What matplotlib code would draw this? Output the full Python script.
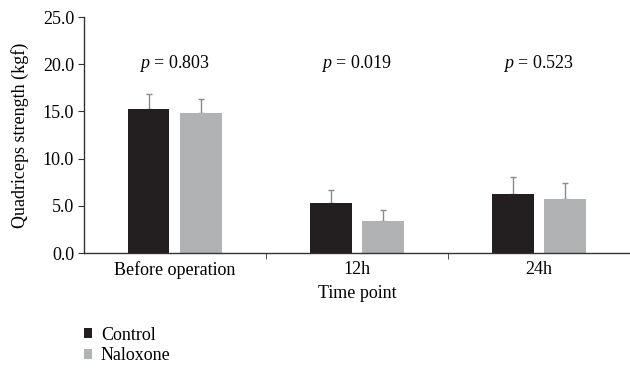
import matplotlib
matplotlib.use("Agg")
import matplotlib.pyplot as plt
import numpy as np

categories = ["Before operation", "12h", "24h"]
control = [15.3, 5.3, 6.3]
control_err = [1.55, 1.35, 1.8]
naloxone = [14.85, 3.4, 5.7]
naloxone_err = [1.5, 1.15, 1.75]
p_labels = ["0.803", "0.019", "0.523"]

plt.rcParams["font.family"] = ["Liberation Serif", "DejaVu Serif"]
plt.rcParams["mathtext.fontset"] = "custom"
plt.rcParams["mathtext.it"] = "Liberation Serif:italic"
plt.rcParams["mathtext.rm"] = "Liberation Serif"

fs = 13
fig = plt.figure(figsize=(6.3, 3.7), dpi=100)
ax = fig.add_axes([0.133, 0.316, 0.867, 0.638])

x = np.arange(len(categories))
w = 0.227
off = 0.143
ax.bar(x - off, control, w, color="#231f20", label="Control", zorder=2)
ax.bar(x + off, naloxone, w, color="#b1b2b4", label="Naloxone", zorder=2)
ax.errorbar(x - off, control, yerr=[[0] * 3, control_err], fmt="none",
            ecolor="#8a8a8a", elinewidth=1.0, capsize=2.5, capthick=1.0, zorder=1)
ax.errorbar(x + off, naloxone, yerr=[[0] * 3, naloxone_err], fmt="none",
            ecolor="#8a8a8a", elinewidth=1.0, capsize=2.5, capthick=1.0, zorder=1)

for i, p in enumerate(p_labels):
    ax.text(x[i], 20.1, "$p$ = " + p, ha="center", va="center", fontsize=fs)

ax.set_xlim(-0.5, 2.5)
ax.set_ylim(0, 25)
ax.set_yticks(np.arange(0, 25.1, 5))
ax.set_yticklabels(["%.1f" % v for v in np.arange(0, 25.1, 5)], fontsize=fs)
ax.set_xticks(x)
ax.set_xticklabels(categories, fontsize=fs)
ax.tick_params(axis="x", length=0, pad=6)
ax.set_xticks([0.5, 1.5], minor=True)
ax.tick_params(axis="x", which="minor", length=4, color="#333333")
ax.tick_params(axis="y", length=4, color="#333333", pad=3)

for s in ["top", "right"]:
    ax.spines[s].set_visible(False)
for s in ["left", "bottom"]:
    ax.spines[s].set_color("#333333")
    ax.spines[s].set_linewidth(1.0)

ax.set_ylabel("Quadriceps strength (kgf)", fontsize=fs, labelpad=10)
ax.set_xlabel("Time point", fontsize=fs, labelpad=4)

fig.legend(loc="upper left", bbox_to_anchor=(0.133, 0.117), frameon=False,
           fontsize=fs, handlelength=0.45, handleheight=0.45, handletextpad=0.5,
           labelspacing=0.2, borderpad=0, borderaxespad=0)

fig.savefig("out.png", dpi=100)
